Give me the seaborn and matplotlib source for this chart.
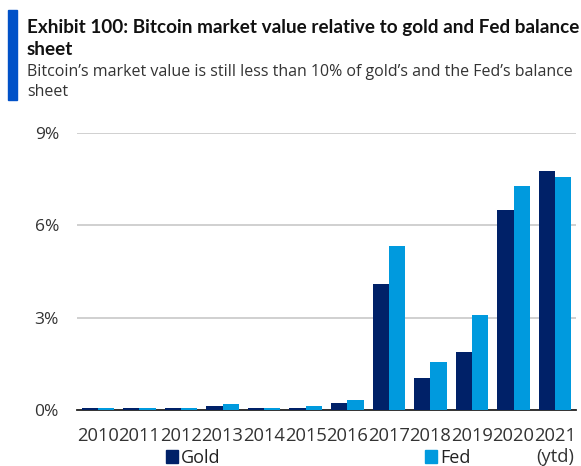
import matplotlib
matplotlib.use("Agg")
import matplotlib.pyplot as plt
import matplotlib.patches as mpatches
from matplotlib.ticker import FuncFormatter
import seaborn as sns
import pandas as pd

years = ["2010", "2011", "2012", "2013", "2014", "2015", "2016",
         "2017", "2018", "2019", "2020", "2021\n(ytd)"]
gold = [0.06, 0.06, 0.06, 0.12, 0.05, 0.08, 0.22, 4.09, 1.03, 1.90, 6.50, 7.78]
fed = [0.05, 0.05, 0.05, 0.18, 0.08, 0.13, 0.33, 5.33, 1.55, 3.08, 7.28, 7.58]
series = ["Gold", "Fed"]
colors = ["#002168", "#009ADE"]

df = pd.DataFrame({
    "year": years * 2,
    "value": gold + fed,
    "series": [series[0]] * len(years) + [series[1]] * len(years),
})

sns.set_theme(style="white")
plt.rcParams["font.family"] = ["Open Sans", "DejaVu Sans"]

fig = plt.figure(figsize=(5.81, 4.66), dpi=100)
ax = fig.add_axes([77 / 581, 1 - 410 / 466, (576 - 77) / 581, (410 - 133) / 466])

sns.barplot(data=df, x="year", y="value", hue="series", palette=colors,
            width=0.78, ax=ax, legend=False, saturation=1, edgecolor="none")
for p in ax.patches:
    p.set_zorder(3)

ax.set_xlim(-0.5, len(years) - 0.5)
ax.set_ylim(0, 9)
ax.set_yticks([0, 3, 6, 9])
ax.yaxis.set_major_formatter(FuncFormatter(lambda v, p: f"{v:.0f}%"))
ax.yaxis.grid(True, color="#c8c8c8", linewidth=1.2, zorder=0)
ax.set_axisbelow(True)
for s in ["left", "right", "top"]:
    ax.spines[s].set_visible(False)
ax.spines["bottom"].set_color("#222222")
ax.spines["bottom"].set_linewidth(1.3)
ax.spines["bottom"].set_zorder(2)
ax.set_xlabel("")
ax.set_ylabel("")
ax.tick_params(axis="y", length=0, pad=13, labelsize=12.5, labelcolor="#333333")
ax.tick_params(axis="x", length=0, pad=12, labelsize=13.2, labelcolor="#333333")
for lbl in ax.get_xticklabels():
    lbl.set_verticalalignment("top")
    lbl.set_linespacing(1.25)

handles = [mpatches.Patch(color=c, label=s) for s, c in zip(series, colors)]
fig.legend(handles=handles, loc="center", bbox_to_anchor=(318 / 581, 1 - 458 / 466),
           ncol=2, frameon=False, fontsize=13, handlelength=0.7, handleheight=0.7,
           handletextpad=0.15, columnspacing=11.3, labelcolor="#222222",
           borderpad=0, borderaxespad=0)

# left accent bar
fig.patches.append(mpatches.Rectangle((8 / 581, 1 - 100 / 466), 9 / 581, 90 / 466,
                                      transform=fig.transFigure, color="#0051C8"))

fig.text(27 / 581, 1 - 38.5 / 466,
         "Exhibit 100: Bitcoin market value relative to gold and Fed balance\nsheet",
         fontsize=13.6, fontweight="bold", color="#111111", va="center", ha="left",
         linespacing=1.3, family=["Lato", "DejaVu Sans"])
fig.text(27 / 581, 1 - 82 / 466,
         "Bitcoin’s market value is still less than 10% of gold’s and the Fed’s balance\nsheet",
         fontsize=11.5, color="#333333", va="center", ha="left", linespacing=1.35)

fig.savefig("out.png", dpi=100)
